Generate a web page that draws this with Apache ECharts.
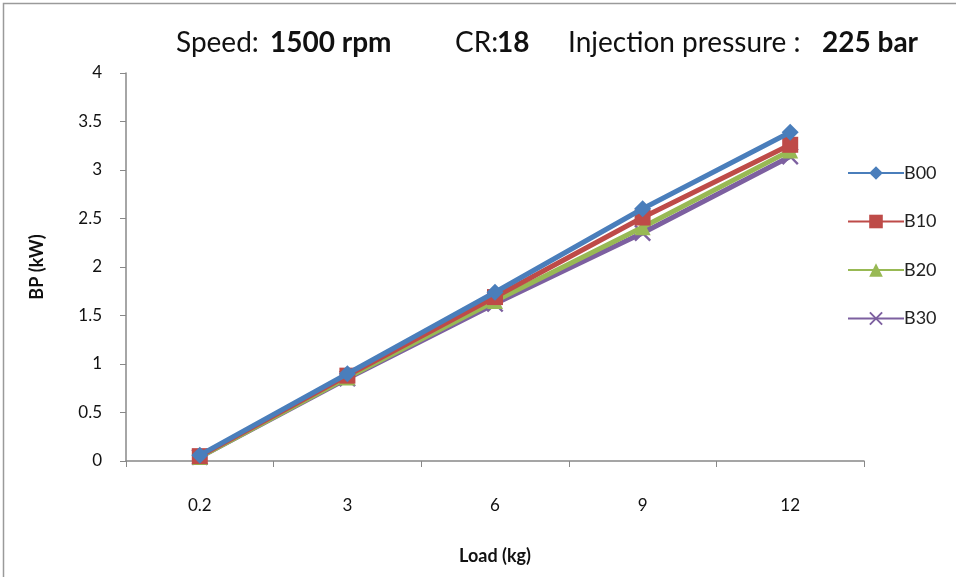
<!DOCTYPE html>
<html><head><meta charset="utf-8">
<script src="https://cdn.jsdelivr.net/npm/echarts@6/dist/echarts.min.js"></script>
<style>html,body{margin:0;padding:0;background:#fff}#c{width:956px;height:577px}</style>
</head><body><div id="c"></div>
<script>
const categories = ['0.2', '3', '6', '9', '12'];
const B00 = [0.06, 0.90, 1.74, 2.60, 3.39];
const B10 = [0.05, 0.88, 1.69, 2.51, 3.26];
const B20 = [0.04, 0.86, 1.65, 2.41, 3.20];
const B30 = [0.04, 0.85, 1.62, 2.35, 3.14];
const seriesNames = ['B00', 'B10', 'B20', 'B30'];
const colors = ['#4a7ebb', '#be4b48', '#98b954', '#7d60a0'];
const xPath = 'path://M1,0 L5,4 L9,0 L10,1 L6,5 L10,9 L9,10 L5,6 L1,10 L0,9 L4,5 L0,1 Z';
const symbols = ['diamond', 'rect', 'triangle', xPath];
const sizes = [17, 16, 16, 17];
const data = [B00, B10, B20, B30];
const font = 'Lato, "Open Sans", sans-serif';
const titleParts = [
  ['Speed:', false, 176], ['1500 rpm', true, 270],
  ['CR:', false, 455], ['18', true, 497],
  ['Injection pressure :', false, 568], ['225 bar', true, 822]
];

const chart = echarts.init(document.getElementById('c'));
chart.setOption({
  animation: false,
  color: colors,
  title: titleParts.map(p => ({
    text: p[0], left: p[2], top: 29, padding: 0,
    textStyle: {fontFamily: font, fontSize: 28, fontWeight: p[1] ? 'bold' : 'normal', color: '#111'}
  })),
  graphic: [{type: 'rect', shape: {x: 3.5, y: 3.5, width: 960, height: 590}, style: {fill: 'none', stroke: '#9a9a9a', lineWidth: 1.5}}],
  legend: {
    orient: 'vertical', left: 842, top: 159, itemGap: 30.5,
    itemWidth: 56, itemHeight: 17,
    textStyle: {fontFamily: font, fontSize: 18, color: '#222', padding: [0, 0, 0, -5]},
    data: seriesNames
  },
  grid: {left: 126, right: 92, top: 73, bottom: 116},
  xAxis: {
    type: 'category', data: categories, boundaryGap: true,
    name: 'Load (kg)', nameLocation: 'middle', nameGap: 86,
    nameTextStyle: {fontFamily: font, fontSize: 18, fontWeight: 'bold', color: '#111'},
    axisLine: {lineStyle: {color: '#888', width: 1.5}},
    axisTick: {show: true, length: 6, lineStyle: {color: '#888'}},
    axisLabel: {fontFamily: font, fontSize: 17, color: '#111', margin: 36}
  },
  yAxis: {
    type: 'value', min: 0, max: 4, interval: 0.5,
    name: 'BP (kW)', nameLocation: 'middle', nameGap: 80, nameRotate: 90,
    nameTextStyle: {fontFamily: font, fontSize: 18, fontWeight: 'bold', color: '#111'},
    axisLine: {show: true, lineStyle: {color: '#888', width: 1.5}},
    axisTick: {show: true, length: 6, lineStyle: {color: '#888'}},
    splitLine: {show: false},
    axisLabel: {fontFamily: font, fontSize: 17, color: '#111', margin: 24}
  },
  series: seriesNames.map((n, i) => ({
    name: n, type: 'line', data: data[i],
    symbol: symbols[i], symbolSize: sizes[i],
    showAllSymbol: true,
    lineStyle: {width: 5, color: colors[i]},
    itemStyle: {color: colors[i]},
    z: 10 - i
  }))
});
</script></body></html>
